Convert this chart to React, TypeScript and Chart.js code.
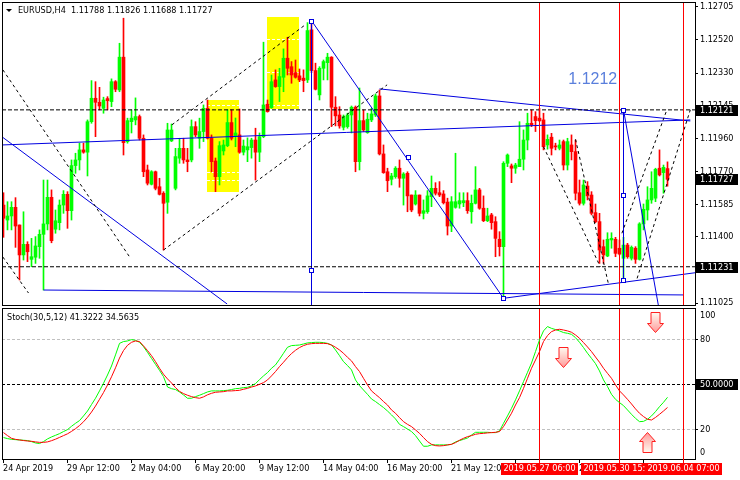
import React, { useEffect, useRef } from 'react';
import { Chart, registerables } from 'chart.js';
Chart.register(...registerables);

// ---------- DATA ----------
const opens = [
1.11581,1.11496,1.11519,1.11568,1.11468,1.11298,1.11358,1.11273,1.11285,1.11345,
1.11415,1.11474,1.11625,1.11444,1.11481,1.11581,1.11642,1.11549,1.11805,1.11837,
1.11894,1.11881,1.12054,1.12187,1.12164,1.12130,1.12185,1.12168,1.12281,1.12234,
1.12420,1.11941,1.12054,1.12064,1.12083,1.11960,1.11780,1.11699,1.11770,1.11685,
1.11648,1.11597,1.11945,1.11676,1.11847,1.11903,1.11837,1.11837,1.12026,1.11960,
1.11998,1.12130,1.11960,1.11831,1.11742,1.11888,1.11918,1.12049,1.11975,1.11979,
1.11881,1.11894,1.11907,1.11950,1.11881,1.11969,1.12153,1.12134,1.12291,1.12253,
1.12306,1.12414,1.12366,1.12332,1.12314,1.12301,1.12291,1.12575,1.12344,1.12206,
1.12357,1.12389,1.12420,1.12136,1.12092,1.12022,1.12026,1.12092,1.12136,1.11827,
1.12060,1.11992,1.12064,1.12092,1.12200,1.11871,1.11770,1.11727,1.11742,1.11790,
1.11733,1.11761,1.11638,1.11587,1.11638,1.11534,1.11543,1.11629,1.11676,1.11651,
1.11644,1.11598,1.11462,1.11568,1.11587,1.11594,1.11606,1.11543,1.11591,1.11667,
1.11563,1.11492,1.11525,1.11487,1.11387,1.11345,1.11818,1.11803,1.11790,1.11799,
1.11841,1.11950,1.12045,1.12083,1.12074,1.12064,1.11922,1.11966,1.11915,1.11903,
1.11941,1.11808,1.11922,1.11884,1.11651,1.11591,1.11689,1.11638,1.11538,1.11487,
1.11345,1.11292,1.11383,1.11387,1.11336,1.11279,1.11354,1.11279,1.11336,1.11273,
1.11474,1.11553,1.11610,1.11620,1.11790,1.11765,1.11788];
const highs = [
1.11651,1.11600,1.11600,1.11623,1.11468,1.11543,1.11373,1.11392,1.11402,1.11440,
1.11723,1.11723,1.11667,1.11553,1.11610,1.11663,1.11657,1.11837,1.11875,1.11932,
1.11932,1.12064,1.12287,1.12281,1.12249,1.12193,1.12196,1.12297,1.12287,1.12499,
1.12641,1.12074,1.12121,1.12189,1.12092,1.11979,1.11808,1.11776,1.11774,1.11733,
1.11657,1.12045,1.12041,1.11903,1.11960,1.11960,1.11903,1.12064,1.12054,1.12074,
1.12149,1.12177,1.11979,1.11848,1.11941,1.11950,1.12121,1.12121,1.12075,1.12126,
1.11950,1.11962,1.11960,1.12017,1.11990,1.12505,1.12177,1.12319,1.12348,1.12357,
1.12467,1.12533,1.12395,1.12404,1.12353,1.12348,1.12616,1.12627,1.12386,1.12366,
1.12404,1.12442,1.12423,1.12196,1.12139,1.12092,1.12102,1.12143,1.12143,1.12245,
1.12121,1.12102,1.12130,1.12211,1.12234,1.11922,1.11790,1.11761,1.11799,1.11837,
1.11765,1.11770,1.11638,1.11663,1.11638,1.11610,1.11663,1.11746,1.11708,1.11714,
1.11663,1.11620,1.11629,1.11875,1.11651,1.11651,1.11651,1.11638,1.11799,1.11676,
1.11633,1.11563,1.11534,1.11515,1.11430,1.11827,1.11871,1.11814,1.11818,1.12054,
1.12007,1.12102,1.12121,1.12111,1.12130,1.12102,1.11979,1.11988,1.11932,1.11950,
1.11950,1.11960,1.11979,1.11950,1.11723,1.11723,1.11714,1.11657,1.11587,1.11534,
1.11383,1.11424,1.11424,1.11398,1.11383,1.11398,1.11364,1.11349,1.11345,1.11481,
1.11587,1.11685,1.11770,1.11790,1.11894,1.11808,1.11826];
const lows = [
1.11398,1.11440,1.11440,1.11341,1.11156,1.11269,1.11260,1.11231,1.11250,1.11279,
1.11099,1.11440,1.11367,1.11421,1.11440,1.11534,1.11449,1.11496,1.11761,1.11780,
1.11875,1.11746,1.12045,1.11969,1.12121,1.12102,1.12121,1.12139,1.12224,1.12224,
1.11865,1.11932,1.11990,1.12036,1.11950,1.11742,1.11695,1.11695,1.11667,1.11638,
1.11326,1.11534,1.11941,1.11667,1.11818,1.11818,1.11770,1.11826,1.11969,1.11903,
1.11941,1.11956,1.11770,1.11657,1.11695,1.11865,1.11912,1.11950,1.11912,1.11875,
1.11865,1.11827,1.11847,1.11723,1.11827,1.11963,1.12108,1.12130,1.12249,1.12168,
1.12224,1.12319,1.12272,1.12301,1.12281,1.12224,1.12276,1.12332,1.12234,1.12177,
1.12291,1.12291,1.12026,1.12030,1.12017,1.12007,1.12017,1.11990,1.11770,1.11780,
1.11998,1.11988,1.12054,1.12083,1.11865,1.11761,1.11657,1.11695,1.11733,1.11682,
1.11581,1.11543,1.11543,1.11581,1.11519,1.11502,1.11534,1.11572,1.11638,1.11629,
1.11587,1.11411,1.11430,1.11563,1.11563,1.11572,1.11534,1.11478,1.11587,1.11557,
1.11487,1.11487,1.11444,1.11288,1.11292,1.11052,1.11799,1.11708,1.11761,1.11799,
1.11780,1.11894,1.12026,1.11998,1.12054,1.11894,1.11898,1.11865,1.11894,1.11894,
1.11780,1.11780,1.11837,1.11610,1.11581,1.11581,1.11610,1.11525,1.11481,1.11250,
1.11250,1.11288,1.11336,1.11288,1.11298,1.11156,1.11279,1.11269,1.11250,1.11269,
1.11440,1.11496,1.11591,1.11600,1.11746,1.11648,1.11688];
const closes = [
1.11506,1.11519,1.11568,1.11462,1.11298,1.11358,1.11316,1.11288,1.11349,1.11415,
1.11474,1.11625,1.11379,1.11492,1.11581,1.11642,1.11549,1.11805,1.11837,1.11894,
1.11881,1.12054,1.12187,1.12164,1.12143,1.12177,1.12173,1.12281,1.12238,1.12420,
1.11935,1.12060,1.12074,1.12083,1.11960,1.11770,1.11705,1.11770,1.11676,1.11642,
1.11591,1.12007,1.12007,1.11856,1.11903,1.11837,1.11827,1.12026,1.11979,1.11998,
1.12130,1.11960,1.11827,1.11742,1.11918,1.11922,1.12049,1.11960,1.11990,1.11881,
1.11916,1.11912,1.11950,1.11881,1.11969,1.12149,1.12111,1.12281,1.12253,1.12310,
1.12414,1.12357,1.12319,1.12306,1.12291,1.12287,1.12571,1.12344,1.12238,1.12357,
1.12395,1.12420,1.12136,1.12087,1.12030,1.12083,1.12092,1.12136,1.11827,1.12060,
1.12007,1.12068,1.12098,1.12200,1.11871,1.11765,1.11719,1.11746,1.11790,1.11733,
1.11757,1.11633,1.11553,1.11638,1.11534,1.11549,1.11633,1.11676,1.11648,1.11638,
1.11594,1.11462,1.11600,1.11600,1.11606,1.11606,1.11549,1.11591,1.11667,1.11563,
1.11492,1.11519,1.11481,1.11392,1.11345,1.11818,1.11865,1.11790,1.11808,1.11841,
1.11950,1.12045,1.12036,1.12060,1.12060,1.11912,1.11954,1.11903,1.11911,1.11922,
1.11808,1.11941,1.11884,1.11648,1.11591,1.11695,1.11633,1.11534,1.11487,1.11326,
1.11298,1.11387,1.11392,1.11307,1.11303,1.11354,1.11288,1.11341,1.11273,1.11474,
1.11557,1.11610,1.11676,1.11784,1.11752,1.11795,1.11727];

const stochMain = [
14.5,13.8,13.3,13.1,12.9,12.7,12.5,11.8,10.9,10.5,
11.8,13.6,14.9,16.0,17.1,18.5,19.8,22.0,24.0,25.8,
28.9,32.2,36.5,40.7,45.6,50.7,56.2,62.2,69.6,77.3,
78.5,78.9,79.8,79.3,78.0,75.1,71.3,67.3,63.3,59.3,
55.1,48.2,47.1,46.5,44.9,42.9,40.7,40.7,41.8,42.7,
43.8,44.9,45.6,45.6,45.6,45.8,46.0,46.5,47.1,47.3,
47.8,48.0,48.9,50.5,53.1,55.6,57.8,60.7,62.9,66.7,
70.7,74.7,75.8,76.0,76.2,76.9,77.6,77.8,78.0,78.0,
77.8,77.3,76.2,72.9,69.1,65.1,62.5,59.6,52.9,49.1,
46.2,43.3,40.2,38.5,36.5,34.5,32.2,29.6,26.9,23.3,
21.8,20.2,18.5,15.8,12.2,8.7,8.7,9.6,9.6,9.6,
9.6,9.6,10.0,11.6,12.5,13.3,14.2,16.2,18.0,18.0,
18.0,18.0,17.8,17.8,18.9,24.0,28.9,34.0,39.6,45.6,
51.8,58.0,64.2,71.8,79.6,85.6,88.5,87.3,86.5,85.6,
84.5,84.0,83.3,81.1,78.0,74.5,70.7,67.3,63.8,58.9,
52.9,48.5,43.3,40.0,37.8,35.8,32.9,30.0,27.3,25.1,
25.3,26.7,28.9,31.8,35.1,38.0,41.3222];
const stochSignal = [
17.8,15.8,14.0,13.3,12.9,12.5,12.2,12.0,11.6,11.3,
11.3,11.6,12.4,13.4,14.6,15.8,17.0,18.6,20.4,22.5,
25.0,28.0,31.5,35.5,40.0,44.5,49.5,55.0,61.0,67.5,
72.5,76.0,78.0,78.9,78.5,75.6,72.5,69.1,65.1,60.7,
56.7,53.6,50.9,47.8,45.3,43.8,42.7,41.8,41.1,40.7,
41.6,43.0,44.0,44.7,44.9,45.1,45.6,45.6,45.8,46.0,
46.7,47.3,48.2,48.9,50.0,51.1,52.9,55.6,58.5,61.8,
64.7,67.8,70.5,72.7,74.5,75.8,76.7,77.1,77.3,77.3,
77.3,77.1,76.2,74.7,72.9,70.7,68.0,65.6,61.8,58.5,
54.0,49.6,45.6,43.3,41.1,38.5,36.2,32.9,30.7,27.8,
25.1,23.3,21.8,19.6,17.3,14.5,11.8,10.0,9.1,8.9,
9.1,9.6,10.0,11.1,12.7,14.0,15.1,15.8,16.7,17.1,
17.3,17.6,17.8,18.0,18.5,21.8,26.2,30.7,36.2,41.1,
47.3,54.0,60.7,66.2,71.8,78.5,82.5,85.1,86.2,86.7,
86.2,85.6,84.7,82.9,80.7,77.8,74.9,71.8,68.2,64.7,
60.7,57.3,54.0,49.6,45.6,42.9,40.0,36.9,33.6,30.7,
28.5,26.7,26.2,27.9,30.0,32.2,34.5635];

const priceTicks = [1.11025, 1.11215, 1.114, 1.11585, 1.1177, 1.1196, 1.12145, 1.1233, 1.1252, 1.12705];
const levelPrices = [1.12121, 1.11231];
const boxPrices = [1.12121, 1.11727, 1.11231];
const stochAxisValues = [100, 80, 50, 20, 0];
const stochLevels = [80, 50, 20];
const timeTickBars = [0, 16, 32, 48, 64, 80, 96, 112, 128, 144, 160];
const timeTickLabels = ['24 Apr 2019', '29 Apr 12:00', '2 May 04:00', '6 May 20:00', '9 May 12:00', '14 May 04:00', '16 May 20:00', '21 May 12:00', '24 May 04:00', '28 May 20:00', '31 May 12:00'];
const eventBars = [134, 154, 170];
const eventLabels = ['2019.05.27 06:00', '2019.05.30 15:00', '2019.06.04 07:00'];

// trend lines: [bar1, price1, bar2, price2]
const blueLines = [
  [-0.3, 1.11922, 171.7, 1.12064],
  [-0.3, 1.11967, 55.9, 1.1102],
  [10, 1.11099, 170, 1.11071],
  [125, 1.11052, 172.9, 1.11197],
  [77, 1.12627, 125, 1.11052],
  [94, 1.1224, 171.7, 1.12058],
  [77, 1.12627, 77, 1.11014],
  [155, 1.12121, 155, 1.11156],
  [155, 1.12121, 163.7, 1.11014],
];
const dashedLines = [
  [-0.15, 1.12348, 31.7, 1.11281],
  [-0.15, 1.11286, 6.25, 1.11082],
  [42.1, 1.12036, 75.4, 1.12603],
  [40, 1.11326, 95.9, 1.12263],
  [135, 1.11912, 149.2, 1.11231],
  [143, 1.11954, 151.3, 1.11127],
  [154.6, 1.11421, 165.9, 1.12125],
  [158.4, 1.11165, 171.7, 1.12121],
];
const squareBars = [77, 77, 101.2, 125, 155, 155, 155];
const squarePrices = [1.12627, 1.11212, 1.11852, 1.11052, 1.12121, 1.11638, 1.11156];
// rectangles: [bar1, bar2, priceTop, priceBottom]
const rects = [[50.95, 58.9, 1.12177, 1.11657], [65.8, 73.9, 1.12647, 1.12125]];
const rectLevels = [[1.12149, 1.1177, 1.11723], [1.12524, 1.12336, 1.12149]];
const noteText = '1.1212';
const noteBar = 141.2;
const notePrice = 1.12291;
const arrowBars = [139.95, 162.8, 160.9];
const arrowValues = [61.5, 85, 18.2];
const arrowDirs = [1, 1, -1];

const titleText = 'EURUSD,H4  1.11788 1.11826 1.11688 1.11727';
const stochTitle = 'Stoch(30,5,12) 41.3222 34.5635';

// ---------- LAYOUT / STYLE ----------
const W = 740;
const MAIN_H = 307;
const STOCH_H = 173;
const X_MIN = -0.375;
const X_MAX = 172.875;
const P_MIN = 1.11014;
const P_MAX = 1.12733;
const S_MIN = 0.2;
const S_MAX = 100.87;
const BULL = '#00ff00';
const BEAR = '#ff0000';
const BLUE = '#0000e0';
const FAMILY = '"DejaVu Sans Condensed", "Liberation Sans", sans-serif';
const FONT9 = '9px ' + FAMILY;

function drawArrow(ctx: any, cx: number, tipY: number, dir: number) {
  const hw = 8, sw = 4.5, head = 9, shaft = 11;
  const baseY = tipY - dir * head;
  const topY = tipY - dir * (head + shaft);
  ctx.beginPath();
  ctx.moveTo(cx - sw, topY);
  ctx.lineTo(cx + sw, topY);
  ctx.lineTo(cx + sw, baseY);
  ctx.lineTo(cx + hw, baseY);
  ctx.lineTo(cx, tipY);
  ctx.lineTo(cx - hw, baseY);
  ctx.lineTo(cx - sw, baseY);
  ctx.closePath();
  const g = ctx.createLinearGradient(0, topY, 0, tipY);
  g.addColorStop(0, '#fffaf0');
  g.addColorStop(1, '#ff9a9a');
  ctx.fillStyle = g;
  ctx.fill();
  ctx.strokeStyle = '#ff2020';
  ctx.lineWidth = 1;
  ctx.stroke();
}

function drawFrame(ctx: any, a: any) {
  ctx.fillStyle = '#000';
  const l = Math.floor(a.left), r = Math.round(a.right), t = Math.floor(a.top), b = Math.round(a.bottom);
  ctx.fillRect(l, t, r - l + 1, 1);
  ctx.fillRect(l, b, r - l + 1, 1);
  ctx.fillRect(l, t, 1, b - t + 1);
  ctx.fillRect(r, t, 1, b - t + 1);
}

const mainPlugin = {
  id: 'mainDecor',
  beforeDatasetsDraw(chart: any) {
    const { ctx, chartArea: a, scales } = chart;
    const x = scales.x, y = scales.y;
    ctx.save();
    ctx.beginPath();
    ctx.rect(a.left, a.top, a.right - a.left, a.bottom - a.top);
    ctx.clip();
    rects.forEach((r, k) => {
      const x1 = Math.round(x.getPixelForValue(r[0]));
      const x2 = Math.round(x.getPixelForValue(r[1]));
      const y1 = Math.round(y.getPixelForValue(r[2]));
      const y2 = Math.round(y.getPixelForValue(r[3]));
      ctx.fillStyle = '#ffff00';
      ctx.fillRect(x1, y1, x2 - x1, y2 - y1);
      ctx.strokeStyle = '#ffffff';
      ctx.lineWidth = 1;
      ctx.setLineDash([3, 2]);
      rectLevels[k].forEach((p) => {
        const py = Math.round(y.getPixelForValue(p)) + 0.5;
        ctx.beginPath();
        ctx.moveTo(x1, py);
        ctx.lineTo(x2, py);
        ctx.stroke();
      });
      ctx.setLineDash([]);
    });
    ctx.restore();
  },
  afterDatasetsDraw(chart: any) {
    const { ctx, chartArea: a, scales } = chart;
    const x = scales.x, y = scales.y;
    ctx.save();
    ctx.beginPath();
    ctx.rect(a.left, a.top, a.right - a.left, a.bottom - a.top);
    ctx.clip();
    ctx.fillStyle = '#ff0000';
    eventBars.forEach((b) => {
      ctx.fillRect(Math.floor(x.getPixelForValue(b)), a.top, 1, a.bottom - a.top);
    });
    ctx.strokeStyle = BLUE;
    ctx.lineWidth = 1;
    squareBars.forEach((b, k) => {
      const px = Math.floor(x.getPixelForValue(b)) + 0.5;
      const py = Math.round(y.getPixelForValue(squarePrices[k])) + 0.5;
      ctx.fillStyle = '#ffffff';
      ctx.fillRect(px - 2, py - 2, 4, 4);
      ctx.strokeRect(px - 2, py - 2, 4, 4);
    });
    ctx.fillStyle = '#5a7fdc';
    ctx.font = '16px "Liberation Sans", Arial, sans-serif';
    ctx.textAlign = 'left';
    ctx.textBaseline = 'middle';
    ctx.fillText(noteText, x.getPixelForValue(noteBar), y.getPixelForValue(notePrice));
    ctx.restore();

    ctx.save();
    ctx.fillStyle = '#000';
    ctx.beginPath();
    ctx.moveTo(6, 9);
    ctx.lineTo(12, 9);
    ctx.lineTo(9, 12);
    ctx.closePath();
    ctx.fill();
    ctx.font = FONT9;
    ctx.textAlign = 'left';
    ctx.textBaseline = 'middle';
    ctx.fillText(titleText, 18, 11);
    ctx.restore();
  },
  afterDraw(chart: any) {
    const { ctx, chartArea: a, scales } = chart;
    const y = scales.y;
    ctx.save();
    drawFrame(ctx, a);
    ctx.font = FONT9;
    ctx.textAlign = 'left';
    ctx.textBaseline = 'middle';
    boxPrices.forEach((p) => {
      const py = Math.round(y.getPixelForValue(p));
      ctx.fillStyle = '#000';
      ctx.fillRect(696, py - 5, 42, 11);
      ctx.fillStyle = '#fff';
      ctx.fillText(p.toFixed(5), 700, py + 0.5);
    });
    ctx.restore();
  },
};

const stochPlugin = {
  id: 'stochDecor',
  beforeDatasetsDraw(chart: any) {
    const { ctx, chartArea: a, scales } = chart;
    const x = scales.x, y = scales.y;
    ctx.save();
    ctx.lineWidth = 1;
    stochLevels.forEach((v) => {
      const py = Math.round(y.getPixelForValue(v)) + 0.5;
      ctx.strokeStyle = v === 50 ? '#000000' : '#c0c0c0';
      ctx.setLineDash([3, 2]);
      ctx.beginPath();
      ctx.moveTo(a.left, py);
      ctx.lineTo(a.right, py);
      ctx.stroke();
    });
    ctx.setLineDash([]);
    ctx.fillStyle = '#ff0000';
    eventBars.forEach((b) => {
      ctx.fillRect(Math.floor(x.getPixelForValue(b)), a.top, 1, a.bottom - a.top);
    });
    ctx.restore();
  },
  afterDatasetsDraw(chart: any) {
    const { ctx, scales } = chart;
    const x = scales.x, y = scales.y;
    ctx.save();
    arrowBars.forEach((b, k) => {
      drawArrow(ctx, Math.round(x.getPixelForValue(b)) + 0.5, Math.round(y.getPixelForValue(arrowValues[k])) + 0.5, arrowDirs[k]);
    });
    ctx.fillStyle = '#000';
    ctx.font = FONT9;
    ctx.textAlign = 'left';
    ctx.textBaseline = 'middle';
    ctx.fillText(stochTitle, 7, 11);
    ctx.restore();
  },
  afterDraw(chart: any) {
    const { ctx, chartArea: a, scales } = chart;
    const x = scales.x, y = scales.y;
    ctx.save();
    drawFrame(ctx, a);
    ctx.font = FONT9;
    ctx.textBaseline = 'middle';
    ctx.textAlign = 'left';
    stochAxisValues.forEach((v) => {
      const raw = y.getPixelForValue(v);
      const py = Math.min(Math.max(raw, a.top + 7), a.bottom - 7);
      ctx.fillStyle = '#000';
      if (v > 0 && v < 100) ctx.fillRect(Math.round(a.right), Math.round(raw), 3, 1);
      if (v === 50) {
        ctx.fillRect(696, Math.round(py) - 5, 42, 11);
        ctx.fillStyle = '#fff';
        ctx.fillText(v.toFixed(4), 700, Math.round(py) + 0.5);
      } else {
        ctx.fillText(String(v), 700, py + 0.5);
      }
    });
    const base = Math.round(a.bottom);
    ctx.fillStyle = '#000';
    timeTickBars.forEach((b, k) => {
      const px = Math.floor(x.getPixelForValue(b));
      ctx.fillRect(px, base, 1, 4);
      ctx.fillText(timeTickLabels[k], px, base + 10);
    });
    eventBars.forEach((b, k) => {
      const px = Math.floor(x.getPixelForValue(b));
      const w = ctx.measureText(eventLabels[k]).width;
      ctx.fillStyle = '#ff0000';
      ctx.fillRect(px, base, 1, 4);
      ctx.fillRect(Math.round(px - w / 2 - 2), base + 4, Math.round(w + 5), 12);
      ctx.fillStyle = '#ffffff';
      ctx.textAlign = 'center';
      ctx.fillText(eventLabels[k], px + 0.5, base + 10);
      ctx.textAlign = 'left';
    });
    ctx.restore();
  },
};

export default function App() {
  const mainRef = useRef<HTMLCanvasElement>(null);
  const stochRef = useRef<HTMLCanvasElement>(null);

  useEffect(() => {
    const idx = closes.map((_, i) => i);
    const colors = idx.map((i) => (closes[i] >= opens[i] ? BULL : BEAR));
    const lineDs = (seg: number[], color: string, dash: number[]) => ({
      type: 'line',
      data: [{ x: seg[0], y: seg[1] }, { x: seg[2], y: seg[3] }],
      borderColor: color,
      borderWidth: 1,
      borderDash: dash,
      pointRadius: 0,
      tension: 0,
      fill: false,
      order: 0,
    });
    const datasets: any[] = [
      {
        type: 'bar',
        data: idx.map((i) => ({ x: i, y: [lows[i], highs[i]] })),
        backgroundColor: colors,
        barThickness: 1,
        grouped: false,
        order: 3,
      },
      {
        type: 'bar',
        data: idx.map((i) => ({ x: i, y: [Math.min(opens[i], closes[i]), Math.max(opens[i], closes[i])] })),
        backgroundColor: colors,
        barThickness: 3,
        minBarLength: 1,
        grouped: false,
        order: 2,
      },
    ];
    levelPrices.forEach((p) => datasets.push(lineDs([X_MIN, p, X_MAX, p], '#000000', [4, 2])));
    dashedLines.forEach((s) => datasets.push(lineDs(s, '#000000', [3, 3])));
    blueLines.forEach((s) => datasets.push(lineDs(s, BLUE, [])));

    const main = new Chart(mainRef.current as any, {
      type: 'bar',
      data: { datasets },
      options: {
        responsive: false,
        animation: false,
        devicePixelRatio: 1,
        events: [],
        layout: { autoPadding: false, padding: { left: 2, top: 2, right: 0, bottom: 2 } },
        plugins: { legend: { display: false }, tooltip: { enabled: false } },
        scales: {
          x: { type: 'linear', min: X_MIN, max: X_MAX, display: false, offset: false },
          y: {
            type: 'linear',
            position: 'right',
            min: P_MIN,
            max: P_MAX,
            afterBuildTicks: (s: any) => {
              s.ticks = priceTicks.map((v) => ({ value: v }));
            },
            afterFit: (s: any) => {
              s.width = 45;
              s.paddingTop = 0;
              s.paddingBottom = 0;
            },
            ticks: {
              autoSkip: false,
              padding: 2,
              color: '#000',
              font: { family: FAMILY, size: 9 },
              callback: (v: any) => Number(v).toFixed(5),
            },
            grid: { drawOnChartArea: false, drawTicks: true, tickLength: 3, color: '#000' },
            border: { display: false },
          },
        },
      } as any,
      plugins: [mainPlugin],
    } as any);

    const stoch = new Chart(stochRef.current as any, {
      type: 'line',
      data: {
        datasets: [
          {
            data: idx.map((i) => ({ x: i, y: stochMain[i] })),
            borderColor: '#00ff00',
            borderWidth: 1,
            pointRadius: 0,
            tension: 0,
            order: 1,
          },
          {
            data: idx.map((i) => ({ x: i, y: stochSignal[i] })),
            borderColor: '#ff0000',
            borderWidth: 1,
            pointRadius: 0,
            tension: 0,
            order: 0,
          },
        ],
      },
      options: {
        responsive: false,
        animation: false,
        devicePixelRatio: 1,
        events: [],
        layout: { autoPadding: false, padding: { left: 2, top: 1, right: 45, bottom: 21 } },
        plugins: { legend: { display: false }, tooltip: { enabled: false } },
        scales: {
          x: { type: 'linear', min: X_MIN, max: X_MAX, display: false },
          y: { type: 'linear', min: S_MIN, max: S_MAX, display: false },
        },
      } as any,
      plugins: [stochPlugin],
    } as any);

    return () => {
      main.destroy();
      stoch.destroy();
    };
  }, []);

  return (
    <div style={{ position: 'absolute', left: 0, top: 0, width: W, height: MAIN_H + STOCH_H, background: '#fff' }}>
      <canvas ref={mainRef} width={W} height={MAIN_H} style={{ position: 'absolute', left: 0, top: 0, width: W, height: MAIN_H }} />
      <canvas ref={stochRef} width={W} height={STOCH_H} style={{ position: 'absolute', left: 0, top: MAIN_H, width: W, height: STOCH_H }} />
    </div>
  );
}
